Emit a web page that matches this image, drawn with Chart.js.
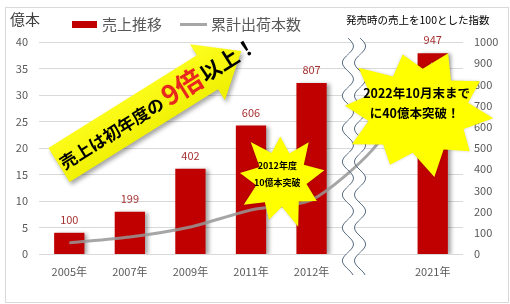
<!DOCTYPE html>
<html>
<head>
<meta charset="utf-8">
<script src="https://cdn.jsdelivr.net/npm/chart.js@4"></script>
<style>
  body { margin: 0; background: #fff; }
</style>
</head>
<body>
<canvas id="myChart" width="510" height="304"></canvas>
<script>
// data
const categories = ['2005年', '2007年', '2009年', '2011年', '2012年', '', '2021年'];
const salesIndex = [100, 199, 402, 606, 807, null, 947];       // 売上推移 (right axis, index)
const cumulativeShipments = [2.1, 3.2, 5.1, 8.3, 10.2, 19.6, 36.0]; // 累計出荷本数 (億本, left axis)
const leftTicks = [0, 40, 5];
const rightTicks = [0, 1000, 100];

const FONT = '"Noto Sans CJK JP", "Noto Sans", sans-serif';
const RED = '#c00000';
const GRAY = 'rgba(150,150,150,0.85)';

function starburst(ctx, cx, cy, rx, ry, radii, rot) {
    const n = radii.length;
    ctx.beginPath();
    for (let i = 0; i < n; i++) {
        const a = rot + i * Math.PI * 2 / n;
        const x = cx + Math.cos(a) * rx * radii[i];
        const y = cy + Math.sin(a) * ry * radii[i];
        if (i === 0) ctx.moveTo(x, y); else ctx.lineTo(x, y);
    }
    ctx.closePath();
    ctx.fill();
}

function wave(ctx, xc, y0, y1, amp, period, reverse) {
    const pts = [];
    for (let y = y0; y <= y1; y += 1) {
        pts.push([xc + amp * Math.sin((y - y0) / period * Math.PI * 2), y]);
    }
    if (reverse) pts.reverse();
    return pts;
}

const decor = {
    id: 'decor',
    beforeDraw(chart) {
        const ctx = chart.ctx;
        ctx.save();
        ctx.fillStyle = '#fff';
        ctx.fillRect(0, 0, chart.width, chart.height);
        ctx.restore();
    },
    beforeDatasetsDraw(chart) {
        // white gap of the axis break
        const ctx = chart.ctx, xs = chart.scales.x, area = chart.chartArea;
        const a = xs.getPixelForValue(4), b = xs.getPixelForValue(5);
        const x1 = a + (b - a) * 0.6, x2 = a + (b - a) * 0.8;
        const top = area.top - 4, bot = area.bottom + 21;
        const pts = wave(ctx, x1, top, bot, 5.5, 33, false).concat(wave(ctx, x2, top, bot, 5.5, 33, true));
        ctx.save();
        ctx.fillStyle = '#fff';
        ctx.beginPath();
        pts.forEach((p, i) => i ? ctx.lineTo(p[0], p[1]) : ctx.moveTo(p[0], p[1]));
        ctx.closePath();
        ctx.fill();
        ctx.restore();
    },
    beforeDatasetDraw(chart, args) {
        if (args.index === 0) {
            const ctx = chart.ctx;
            ctx.save();
            ctx.shadowColor = 'rgba(0,0,0,0.35)';
            ctx.shadowBlur = 4;
            ctx.shadowOffsetX = 3;
            ctx.shadowOffsetY = 1;
        }
    },
    afterDatasetDraw(chart, args) {
        if (args.index === 0) chart.ctx.restore();
    },
    afterDatasetsDraw(chart) {
        const ctx = chart.ctx, xs = chart.scales.x, ys = chart.scales.y, area = chart.chartArea;
        ctx.save();

        // value labels on bars
        ctx.font = '11px ' + FONT;
        ctx.fillStyle = '#a83232';
        ctx.textAlign = 'center';
        ctx.textBaseline = 'middle';
        chart.getDatasetMeta(0).data.forEach((bar, i) => {
            const v = chart.data.datasets[0].data[i];
            if (v == null) return;
            ctx.fillText(String(v), bar.x, bar.y - 13);
        });

        // break strokes
        const a = xs.getPixelForValue(4), b = xs.getPixelForValue(5);
        const top = area.top - 4, bot = area.bottom + 21;
        ctx.strokeStyle = '#5b6d82';
        ctx.lineWidth = 1;
        [0.6, 0.8].forEach(f => {
            const pts = wave(ctx, a + (b - a) * f, top, bot, 5.5, 33, false);
            ctx.beginPath();
            pts.forEach((p, i) => i ? ctx.lineTo(p[0], p[1]) : ctx.moveTo(p[0], p[1]));
            ctx.stroke();
        });

        // starburst: 2012年度 10億本突破
        ctx.fillStyle = '#ffff00';
        ctx.shadowColor = 'rgba(0,0,0,0.2)';
        ctx.shadowBlur = 3;
        const c1x = xs.getPixelForValue(3.5), c1y = ys.getPixelForValue(14);
        starburst(ctx, c1x, c1y, 44, 48,
            [1, 0.58, 0.92, 0.6, 1.05, 0.56, 0.88, 0.6, 1, 0.58, 0.95, 0.56, 1.05, 0.6, 0.9, 0.58, 1, 0.6], -0.2);
        // starburst: 2022年10月末までに40億本突破！
        const c2x = xs.getPixelForValue(5.75), c2y = ys.getPixelForValue(26.8);
        starburst(ctx, c2x, c2y, 76, 64,
            [1, 0.66, 0.92, 0.68, 1.04, 0.64, 0.9, 0.68, 1, 0.66, 0.96, 0.68, 1.04, 0.64, 0.92, 0.68, 1, 0.66, 0.95, 0.68], 0.1);
        ctx.shadowColor = 'transparent';

        ctx.fillStyle = '#000';
        ctx.textAlign = 'center';
        ctx.font = 'bold 9px ' + FONT;
        ctx.fillText('2012年度', c1x - 4, c1y - 14);
        ctx.fillText('10億本突破', c1x - 4, c1y + 3);
        ctx.font = 'bold 12.5px ' + FONT;
        ctx.fillText('2022年10月末まで', c2x - 1, c2y - 19);
        ctx.fillText('に40億本突破！', c2x - 3, c2y + 1);

        // big arrow
        const sx = xs.getPixelForValue(-0.17), sy = ys.getPixelForValue(16.8);
        const ang = -32 * Math.PI / 180;
        ctx.translate(sx, sy);
        ctx.rotate(ang);
        const L = 175, hw = 20, hh = 33, hl = 40;
        const grad = ctx.createLinearGradient(0, -hh, 0, hh);
        grad.addColorStop(0, '#ffff20');
        grad.addColorStop(1, '#eeee00');
        ctx.fillStyle = grad;
        ctx.shadowColor = 'rgba(0,0,0,0.35)';
        ctx.shadowBlur = 4;
        ctx.shadowOffsetX = 2;
        ctx.shadowOffsetY = 3;
        ctx.beginPath();
        ctx.moveTo(0, -hw);
        ctx.lineTo(L, -hw);
        ctx.lineTo(L, -hh);
        ctx.lineTo(L + hl, 0);
        ctx.lineTo(L, hh);
        ctx.lineTo(L, hw);
        ctx.lineTo(0, hw);
        ctx.closePath();
        ctx.fill();
        ctx.shadowColor = 'transparent';

        ctx.textAlign = 'left';
        ctx.textBaseline = 'middle';
        let x = 2;
        ctx.fillStyle = '#000';
        ctx.font = 'bold 17px ' + FONT;
        ctx.fillText('売上は初年度の', x, 1);
        x += ctx.measureText('売上は初年度の').width + 3;
        ctx.fillStyle = '#e8281e';
        ctx.font = 'bold 27px ' + FONT;
        ctx.fillText('9倍', x, -1);
        x += ctx.measureText('9倍').width + 1;
        ctx.fillStyle = '#000';
        ctx.font = 'bold 21px ' + FONT;
        ctx.fillText('以上！', x, 0);
        ctx.restore();

        // legend and axis titles
        ctx.save();
        ctx.textBaseline = 'middle';
        ctx.textAlign = 'left';
        ctx.fillStyle = '#404040';
        ctx.font = '15px ' + FONT;
        ctx.fillText('億本', 10, 19);
        ctx.fillStyle = RED;
        ctx.fillRect(72, 21, 25, 7);
        ctx.fillStyle = '#595959';
        ctx.fillText(chart.data.datasets[0].label, 102, 24);
        ctx.strokeStyle = '#a6a6a6';
        ctx.lineWidth = 3;
        ctx.beginPath();
        ctx.moveTo(180, 24.5);
        ctx.lineTo(207, 24.5);
        ctx.stroke();
        ctx.fillText(chart.data.datasets[1].label, 211, 24);
        ctx.fillStyle = '#000';
        ctx.font = '10.5px ' + FONT;
        ctx.fillText('発売時の売上を100とした指数', 346, 20);

        // outer frame
        ctx.strokeStyle = '#d9d9d9';
        ctx.lineWidth = 1;
        ctx.strokeRect(5.5, 7.5, 503, 295);
        ctx.restore();
    }
};

const ctx = document.getElementById('myChart');

new Chart(ctx, {
    type: 'bar',
    data: {
        labels: categories,
        datasets: [{
            type: 'bar',
            label: '売上推移',
            data: salesIndex,
            backgroundColor: RED,
            yAxisID: 'y1',
            barPercentage: 0.5,
            categoryPercentage: 1,
            order: 1
        }, {
            type: 'line',
            label: '累計出荷本数',
            data: cumulativeShipments,
            borderColor: GRAY,
            borderWidth: 3,
            pointRadius: 0,
            tension: 0.25,
            yAxisID: 'y',
            order: 0
        }]
    },
    options: {
        responsive: false,
        devicePixelRatio: 1,
        animation: false,
        layout: { padding: { top: 42, left: 0, right: 0, bottom: 0 } },
        plugins: {
            legend: { display: false },
            tooltip: { enabled: false }
        },
        scales: {
            x: {
                grid: { display: false, drawTicks: false },
                border: { display: false },
                ticks: { color: '#595959', font: { family: FONT, size: 11 }, padding: 11, maxRotation: 0 },
                afterFit: s => { s.height = 50; }
            },
            y: {
                position: 'left',
                min: leftTicks[0],
                max: leftTicks[1],
                ticks: { stepSize: leftTicks[2], color: '#595959', font: { family: FONT, size: 11 }, padding: 11 },
                grid: { color: '#d9d9d9', drawTicks: false },
                border: { display: false },
                afterFit: s => { s.width = 39; }
            },
            y1: {
                position: 'right',
                min: rightTicks[0],
                max: rightTicks[1],
                ticks: {
                    stepSize: rightTicks[2], color: '#595959', font: { family: FONT, size: 11 }, padding: 11,
                    callback: v => String(v)
                },
                grid: { display: false, drawTicks: false },
                border: { display: false },
                afterFit: s => { s.width = 47; }
            }
        }
    },
    plugins: [decor]
});
</script>
</body>
</html>
